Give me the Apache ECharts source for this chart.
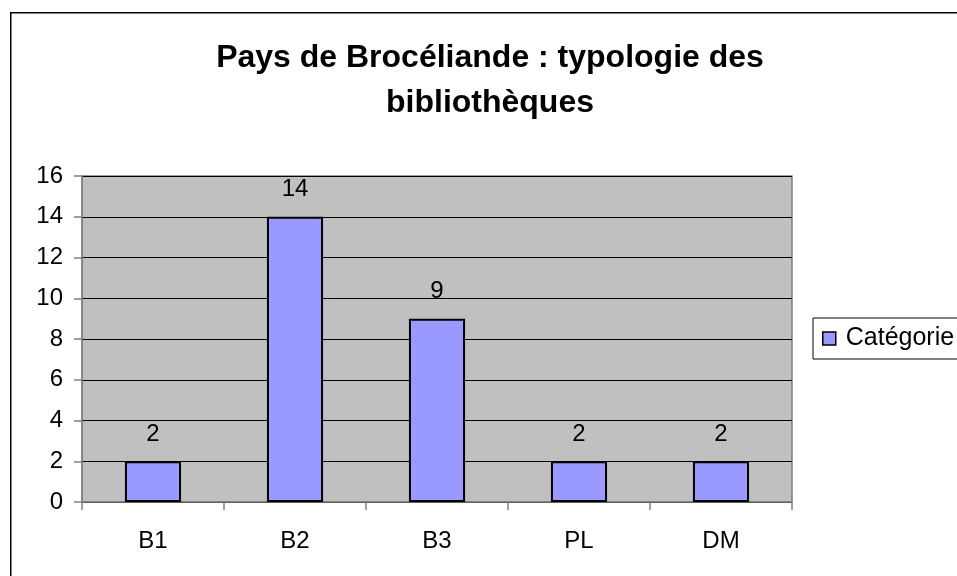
<!DOCTYPE html>
<html>
<head>
<meta charset="utf-8">
<script src="https://cdn.jsdelivr.net/npm/echarts@6/dist/echarts.min.js"></script>
<style>
html,body{margin:0;padding:0;background:#fff;}
#c{width:957px;height:576px;}
</style>
</head>
<body>
<div id="c"></div>
<script>
var titleText = 'Pays de Brocéliande : typologie des\nbibliothèques';
var categories = ['B1', 'B2', 'B3', 'PL', 'DM'];
var seriesName = 'Catégorie';
var values = [2, 14, 9, 2, 2];
var yTicks = {min: 0, max: 16, interval: 2};

var chart = echarts.init(document.getElementById('c'), null, {renderer: 'canvas'});
var FONT = '"Liberation Sans", Arial, sans-serif';
chart.setOption({
  animation: false,
  backgroundColor: '#ffffff',
  graphic: [{
    type: 'rect', left: 10, top: 12, z: -10,
    shape: {width: 1000, height: 600},
    style: {fill: '#ffffff', stroke: '#000000', lineWidth: 1.5}
  }],
  title: {
    text: titleText,
    left: 485, top: 31, textAlign: 'center',
    textStyle: {fontFamily: FONT, fontSize: 32, fontWeight: 'bold', color: '#000', lineHeight: 45}
  },
  legend: {
    data: [seriesName],
    left: 813, top: 318,
    orient: 'vertical',
    backgroundColor: '#fff',
    borderColor: '#000', borderWidth: 1,
    padding: [8, 30, 8, 9],
    itemWidth: 13, itemHeight: 13, itemGap: 6,
    icon: 'rect',
    itemStyle: {borderColor: '#000', borderWidth: 1.5},
    textStyle: {fontFamily: FONT, fontSize: 25, color: '#000', padding: [0, 0, 0, 5]}
  },
  grid: {
    left: 82, top: 176, width: 710, height: 326,
    show: true, backgroundColor: '#c0c0c0', borderColor: '#808080', borderWidth: 1.5,
    containLabel: false
  },
  xAxis: {
    type: 'category', data: categories,
    axisLine: {lineStyle: {color: '#808080', width: 1.5}},
    axisTick: {show: true, length: 8, lineStyle: {color: '#808080', width: 1.5}, alignWithLabel: false},
    axisLabel: {fontFamily: FONT, fontSize: 24, color: '#000', margin: 27}
  },
  yAxis: {
    type: 'value', min: yTicks.min, max: yTicks.max, interval: yTicks.interval,
    axisLine: {show: true, lineStyle: {color: '#808080', width: 1.5}},
    axisTick: {show: true, length: 8, lineStyle: {color: '#808080', width: 1.5}},
    axisLabel: {fontFamily: FONT, fontSize: 24, color: '#000', margin: 19},
    splitLine: {show: true, lineStyle: {color: '#000', width: 1}}
  },
  series: [{
    name: seriesName, type: 'bar', data: values,
    barWidth: '39.5%',
    itemStyle: {color: '#9999ff', borderColor: '#000', borderWidth: 2},
    label: {show: true, position: 'top', distance: 15, fontFamily: FONT, fontSize: 24, color: '#000'}
  }]
});
</script>
</body>
</html>
